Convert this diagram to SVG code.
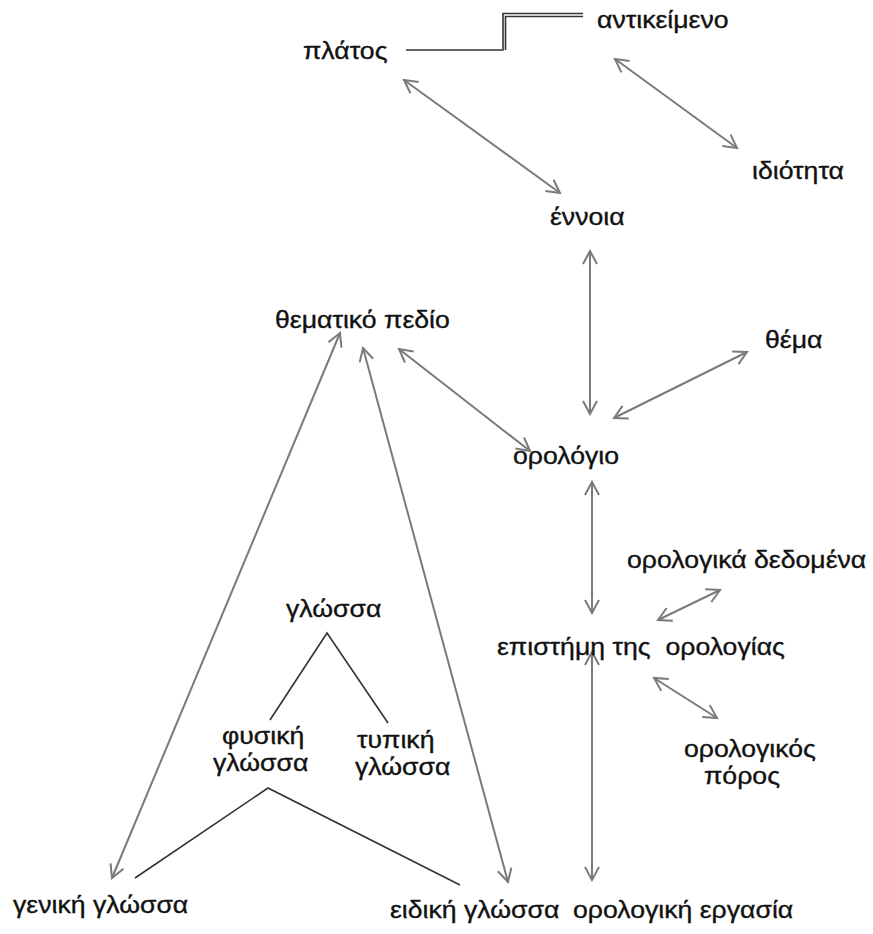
<svg xmlns="http://www.w3.org/2000/svg" width="873" height="934" viewBox="0 0 873 934">
  <style>
    .lbl { font-family: "Liberation Sans", Arial, sans-serif; font-size: 24px; fill: #111; stroke: #111; stroke-width: 0.35; }
    .arr { stroke: #7a7a7a; stroke-width: 2; fill: none; marker-start: url(#head); marker-end: url(#head); }
    .tree { stroke: #333; stroke-width: 1.6; fill: none; }
  </style>
  <defs>
    <marker id="head" viewBox="0 0 16 16" markerUnits="userSpaceOnUse" markerWidth="16" markerHeight="16" refX="14" refY="8" orient="auto-start-reverse">
      <path d="M1,1 L14,8 L1,15" fill="none" stroke="#7a7a7a" stroke-width="2"/>
    </marker>
  </defs>
  <rect width="873" height="934" fill="#ffffff"/>

  <g id="connectors">
    <!-- stepped double link between πλάτος and αντικείμενο -->
    <polyline class="tree" points="406,50 503,50 503,13.5 583,13.5"/>
    <polyline class="tree" points="505.5,50 505.5,16.5 583,16.5"/>
    <line class="arr" x1="404" y1="80" x2="560" y2="193"/>
    <line class="arr" x1="615" y1="59" x2="737" y2="148"/>
    <line class="arr" x1="590" y1="251" x2="590" y2="414"/>
    <line class="arr" x1="399" y1="349" x2="530" y2="451"/>
    <line class="arr" x1="747" y1="352" x2="614" y2="418"/>
    <line class="arr" x1="592" y1="482" x2="592" y2="613"/>
    <line class="arr" x1="658" y1="620" x2="720" y2="590"/>
    <line class="arr" x1="654" y1="678" x2="717" y2="718"/>
    <line class="arr" x1="592" y1="652" x2="592" y2="880"/>
    <line class="arr" x1="340" y1="333" x2="112" y2="878"/>
    <line class="arr" x1="363" y1="348" x2="508" y2="882"/>
    <!-- language tree -->
    <polyline class="tree" points="270,720 327,633 388,723"/>
    <polyline class="tree" points="135,878 268,788 460,885"/>
  </g>

  <!-- labels: slightly widened sans -->
  <g id="platos"><text class="lbl" transform="translate(303,59) scale(1.11,1)">πλάτος</text></g>
  <g id="antikeimeno"><text class="lbl" transform="translate(597,28) scale(1.11,1)">αντικείμενο</text></g>
  <g id="idiotita"><text class="lbl" transform="translate(752,179) scale(1.11,1)">ιδιότητα</text></g>
  <g id="ennoia"><text class="lbl" transform="translate(550,225) scale(1.11,1)">έννοια</text></g>
  <g id="thematiko-pedio"><text class="lbl" transform="translate(275,328) scale(1.11,1)">θεματικό πεδίο</text></g>
  <g id="thema"><text class="lbl" transform="translate(765,348) scale(1.11,1)">θέμα</text></g>
  <g id="orologio"><text class="lbl" transform="translate(513,464) scale(1.11,1)">ορολόγιο</text></g>
  <g id="orologika-dedomena"><text class="lbl" transform="translate(627,568) scale(1.11,1)">ορολογικά δεδομένα</text></g>
  <g id="glossa"><text class="lbl" transform="translate(286,617) scale(1.11,1)">γλώσσα</text></g>
  <g id="episteme"><text class="lbl" transform="translate(497,655) scale(1.11,1)" xml:space="preserve">επιστήμη της  ορολογίας</text></g>
  <g id="fysiki-glossa">
    <text class="lbl" transform="translate(222,744) scale(1.11,1)">φυσική</text>
    <text class="lbl" transform="translate(213,771) scale(1.11,1)">γλώσσα</text>
  </g>
  <g id="typiki-glossa">
    <text class="lbl" transform="translate(357,748) scale(1.11,1)">τυπική</text>
    <text class="lbl" transform="translate(355,775) scale(1.11,1)">γλώσσα</text>
  </g>
  <g id="orologikos-poros">
    <text class="lbl" transform="translate(684,757) scale(1.11,1)">ορολογικός</text>
    <text class="lbl" transform="translate(704,784) scale(1.11,1)">πόρος</text>
  </g>
  <g id="geniki-glossa"><text class="lbl" transform="translate(13,913) scale(1.11,1)">γενική γλώσσα</text></g>
  <g id="eidiki-glossa"><text class="lbl" transform="translate(390,918) scale(1.11,1)">ειδική γλώσσα</text></g>
  <g id="orologiki-ergasia"><text class="lbl" transform="translate(573,918) scale(1.11,1)">ορολογική εργασία</text></g>
</svg>
